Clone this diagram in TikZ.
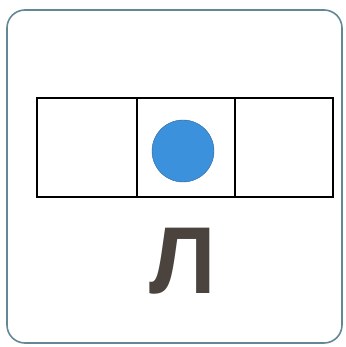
\documentclass[tikz,border=0pt]{standalone}
\usepackage{fontspec}
\setmainfont{Liberation Sans}
\definecolor{frame}{RGB}{100,135,150}
\definecolor{dot}{RGB}{60,145,220}
\definecolor{letter}{RGB}{75,68,62}

\begin{document}
\begin{tikzpicture}[x=1pt,y=-1pt]
\useasboundingbox (0,0) rectangle (345,347);
\draw [frame, line width=1.6pt, rounded corners=18pt] (7,10) rectangle (342,343);
\draw [line width=1.2pt] (37,98) rectangle (333,197);
\draw [line width=1.2pt] (137,98) -- (137,197);
\draw [line width=1.2pt] (235,98) -- (235,197);
\draw [fill=dot, draw=dot!70!black, line width=0.4pt] (183,151) circle [radius=31];

\node (l) [letter, font=\fontsize{95}{95}\selectfont\bfseries, inner sep=0pt] at (183,261) {Л};

\end{tikzpicture}
\end{document}
